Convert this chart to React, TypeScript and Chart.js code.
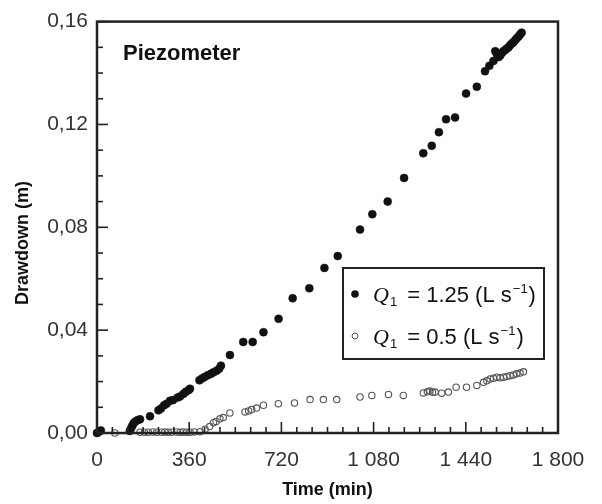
import { useEffect, useRef } from "react";
import { Chart, registerables } from "chart.js";

Chart.register(...registerables);

// Q1 = 1.25 L/s (filled)
const timeHigh = [
  0, 8, 15, 128, 133, 138, 143, 150, 158, 168, 207, 240, 250, 262, 272, 285, 297, 315, 324, 337,
  347, 357, 363, 400, 410, 420, 433, 445, 455, 467, 477, 484, 519, 571, 608, 650, 709, 764, 829,
  888, 940, 1027, 1075, 1135, 1199, 1274, 1307, 1335, 1363, 1398, 1441, 1483, 1515, 1532, 1548,
  1555, 1561, 1568, 1574, 1581, 1587, 1594, 1600, 1607, 1613, 1620, 1626, 1633, 1639, 1646, 1652,
  1658,
];
const drawHigh = [
  0, 0.0005, 0.001, 0.0008, 0.0018, 0.0028, 0.0038, 0.0045, 0.005, 0.0053, 0.0065, 0.0088, 0.0095,
  0.0108, 0.0114, 0.0125, 0.0128, 0.0138, 0.0142, 0.0152, 0.016, 0.0166, 0.0172, 0.0205, 0.0212,
  0.0218, 0.0225, 0.023, 0.0236, 0.0242, 0.025, 0.0262, 0.0303, 0.0354, 0.0354, 0.0392, 0.0444,
  0.0524, 0.0563, 0.0642, 0.0688, 0.0791, 0.0851, 0.09, 0.0992, 0.1088, 0.1117, 0.117, 0.122,
  0.1227, 0.132, 0.1347, 0.1407, 0.1428, 0.1447, 0.1485, 0.1475, 0.1462, 0.1468, 0.1478, 0.1485,
  0.149, 0.1495, 0.15, 0.1508, 0.1515, 0.152, 0.1528, 0.1535, 0.1542, 0.155, 0.1557,
];

// Q1 = 0.5 L/s (hollow)
const timeLow = [
  0, 70, 168, 185, 200, 218, 233, 252, 265, 278, 292, 311, 325, 337, 350, 363, 380, 402, 422, 440,
  455, 465, 480, 493, 519, 578, 592, 604, 623, 650, 708, 771, 832, 884, 936, 1027, 1073, 1138,
  1196, 1274, 1290, 1300, 1310, 1320, 1346, 1372, 1402, 1443, 1483, 1509, 1522, 1535, 1548, 1561,
  1574, 1587, 1600, 1613, 1626, 1639, 1652, 1665,
];
const drawLow = [
  0, 0, 0.0003, 0.0003, 0.0003, 0.0004, 0.0003, 0.0003, 0.0004, 0.0003, 0.0003, 0.0004, 0.0003,
  0.0004, 0.0003, 0.0003, 0.0004, 0.0005, 0.0015, 0.0025, 0.004, 0.0045, 0.0055, 0.006, 0.0078,
  0.0082, 0.0086, 0.0091, 0.0097, 0.0108, 0.0114, 0.0117, 0.013, 0.013, 0.013, 0.014, 0.0146,
  0.015, 0.0146, 0.0156, 0.016, 0.0163, 0.0158, 0.0159, 0.0155, 0.0159, 0.0178, 0.0178, 0.0185,
  0.0197, 0.0203, 0.021, 0.0213, 0.0217, 0.0215, 0.0217, 0.022, 0.0223, 0.0226, 0.023, 0.0233,
  0.0238,
];

const xTickLabels = ["0", "360", "720", "1 080", "1 440", "1 800"];
const yTickLabels = ["0,00", "0,04", "0,08", "0,12", "0,16"];
const seriesValues = ["1.25", "0.5"];
const panelLabel = "Piezometer";
const xTitle = "Time (min)";
const yTitle = "Drawdown (m)";

const SANS = "'Liberation Sans', Arial, sans-serif";
const SERIF = "'Liberation Serif', 'Times New Roman', serif";

export default function App() {
  const ref = useRef<HTMLCanvasElement>(null);

  useEffect(() => {
    document.body.style.margin = "0";
    document.body.style.background = "#fff";
    const canvas = ref.current;
    if (!canvas) return;

    const decor = {
      id: "decor",
      afterDraw(chart: any) {
        const { ctx, chartArea: a, scales } = chart;
        const xs = scales.x;
        const ys = scales.y;
        ctx.save();
        ctx.strokeStyle = "#222";
        ctx.fillStyle = "#111";

        // inward tick marks
        ctx.lineWidth = 1.6;
        for (let v = 0; v <= 1800; v += 60) {
          const px = xs.getPixelForValue(v);
          const len = v % 360 === 0 ? 11 : 6;
          ctx.beginPath();
          ctx.moveTo(px, a.bottom);
          ctx.lineTo(px, a.bottom - len);
          ctx.stroke();
        }
        for (let i = 0; i <= 16; i++) {
          const py = ys.getPixelForValue(i / 100);
          const len = i % 4 === 0 ? 11 : 6;
          ctx.beginPath();
          ctx.moveTo(a.left, py);
          ctx.lineTo(a.left + len, py);
          ctx.stroke();
        }

        // frame
        ctx.lineWidth = 2.5;
        ctx.strokeRect(a.left, a.top, a.right - a.left, a.bottom - a.top);

        // panel label
        ctx.font = `bold 22px ${SANS}`;
        ctx.textAlign = "left";
        ctx.textBaseline = "middle";
        ctx.fillText(panelLabel, 123, 54);

        // axis titles
        ctx.font = `bold 18px ${SANS}`;
        ctx.textAlign = "center";
        ctx.fillText(xTitle, (a.left + a.right) / 2, 490);
        ctx.save();
        ctx.translate(23, 243);
        ctx.rotate(-Math.PI / 2);
        ctx.fillText(yTitle, 0, 0);
        ctx.restore();

        // legend
        const bx = 343, by = 268, bw = 201, bh = 91;
        ctx.fillStyle = "#fff";
        ctx.fillRect(bx, by, bw, bh);
        ctx.lineWidth = 2;
        ctx.strokeStyle = "#222";
        ctx.strokeRect(bx, by, bw, bh);
        const rows = [294, 336];
        rows.forEach((ry, idx) => {
          ctx.beginPath();
          if (idx === 0) {
            ctx.arc(355, ry, 3.8, 0, Math.PI * 2);
            ctx.fillStyle = "#111";
            ctx.fill();
          } else {
            ctx.arc(355, ry, 3, 0, Math.PI * 2);
            ctx.fillStyle = "#fff";
            ctx.fill();
            ctx.lineWidth = 1;
            ctx.strokeStyle = "#555";
            ctx.stroke();
          }
          ctx.fillStyle = "#111";
          ctx.textAlign = "left";
          ctx.textBaseline = "alphabetic";
          const base = ry + 8;
          let x = 373;
          ctx.font = `italic 22px ${SERIF}`;
          ctx.fillText("Q", x, base);
          x += ctx.measureText("Q").width + 1;
          ctx.font = `13px ${SANS}`;
          ctx.fillText("1", x, base + 4);
          x += ctx.measureText("1").width + 4;
          ctx.font = `22px ${SANS}`;
          const mid = ` = ${seriesValues[idx]} (L s`;
          ctx.fillText(mid, x, base);
          x += ctx.measureText(mid).width + 1;
          ctx.font = `13px ${SANS}`;
          ctx.fillText("\u22121", x, base - 9);
          x += ctx.measureText("\u22121").width + 1;
          ctx.font = `22px ${SANS}`;
          ctx.fillText(")", x, base);
        });

        ctx.restore();
      },
    };

    const chart = new Chart(canvas, {
      type: "scatter",
      data: {
        datasets: [
          {
            label: "Q1 = 1.25 (L s-1)",
            data: timeHigh.map((t, i) => ({ x: t, y: drawHigh[i] })),
            pointRadius: 4,
            pointBackgroundColor: "#111",
            pointBorderColor: "#111",
            pointBorderWidth: 0.5,
            clip: false as any,
          },
          {
            label: "Q1 = 0.5 (L s-1)",
            data: timeLow.map((t, i) => ({ x: t, y: drawLow[i] })),
            pointRadius: 3.2,
            pointBackgroundColor: "rgba(255,255,255,0)",
            pointBorderColor: "#555",
            pointBorderWidth: 1.1,
            clip: false as any,
          },
        ],
      },
      options: {
        responsive: false,
        animation: false,
        layout: { padding: { top: 17, right: 44, left: 0, bottom: 0 } },
        plugins: {
          legend: { display: false },
          tooltip: { enabled: false },
        },
        scales: {
          x: {
            type: "linear",
            min: 0,
            max: 1800,
            grid: { display: false, drawTicks: false },
            border: { display: false },
            afterFit: (s: any) => {
              s.height = 71;
            },
            afterBuildTicks: (s: any) => {
              s.ticks = xTickLabels.map((_, i) => ({ value: i * 360 }));
            },
            ticks: {
              autoSkip: false,
              maxRotation: 0,
              padding: 15,
              color: "#333",
              font: { family: SANS, size: 21 },
              callback: (_v: any, i: number) => xTickLabels[i],
            },
          },
          y: {
            type: "linear",
            min: 0,
            max: 0.16,
            grid: { display: false, drawTicks: false },
            border: { display: false },
            afterFit: (s: any) => {
              s.width = 97;
            },
            afterBuildTicks: (s: any) => {
              s.ticks = yTickLabels.map((_, i) => ({ value: i * 0.04 }));
            },
            ticks: {
              autoSkip: false,
              padding: 9,
              color: "#333",
              font: { family: SANS, size: 21 },
              callback: (_v: any, i: number) => yTickLabels[i],
            },
          },
        },
      },
      plugins: [decor],
    });

    return () => chart.destroy();
  }, []);

  return <canvas ref={ref} width={602} height={504} style={{ display: "block" }} />;
}
